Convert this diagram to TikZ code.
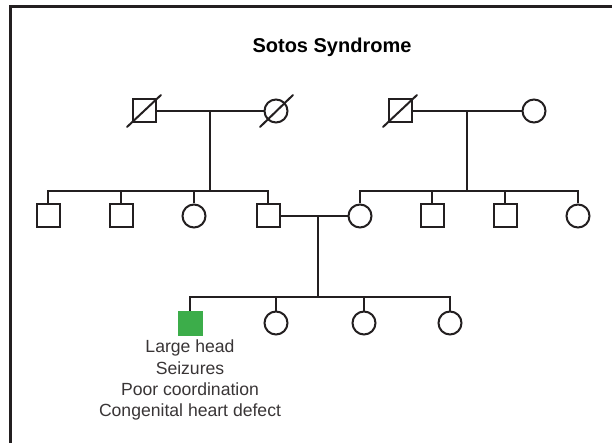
\documentclass[tikz,border=0pt]{standalone}
\usepackage{fontspec}
\setmainfont{Liberation Sans}
\usetikzlibrary{calc}
\definecolor{ink}{HTML}{231F20}
\definecolor{affgreen}{HTML}{3CAD4A}

\begin{document}
\begin{tikzpicture}[x=1pt, y=-1pt, line width=2pt,
  male/.style={draw=ink, rectangle, minimum size=23pt, inner sep=0pt},
  female/.style={draw=ink, circle, minimum size=23pt, inner sep=0pt},
  affected/.style={fill=affgreen, draw=affgreen},
  line/.style={draw=ink, line width=2pt},
  deadmark/.style={draw=ink, line width=2pt, line cap=round},
  traits/.style={align=center, text=ink!90, inner sep=0pt,
    font=\fontsize{17.6}{21.3}\selectfont}]
  \useasboundingbox (0,0) rectangle (612,443);
  % frame
  \draw[ink, line width=3pt] (10.5,443) -- (10.5,6.5) -- (612,6.5);
  \node[font=\fontsize{20}{24}\selectfont\bfseries, anchor=base] (title) at (332,53) {Sotos Syndrome};

  % generation I
  \node[male] (gf1) at (144,111) {};
  \node[female] (gm1) at (276,111) {};
  \node[male] (gf2) at (400,111) {};
  \node[female] (gm2) at (534,111) {};
  \draw[deadmark] ($(gf1)+(-17,16)$) -- ($(gf1)+(17,-16)$);
  \draw[deadmark] ($(gm1)+(-16,16)$) -- ($(gm1)+(17,-16)$);
  \draw[deadmark] ($(gf2)+(-17,16)$) -- ($(gf2)+(17,-16)$);

  % generation II
  \node[male] (u1) at (48,216) {};
  \node[male] (u2) at (121,216) {};
  \node[female] (u3) at (194,216) {};
  \node[male] (dad) at (268,216) {};
  \node[female] (mom) at (360,216) {};
  \node[male] (v2) at (432,216) {};
  \node[male] (v3) at (505,216) {};
  \node[female] (v4) at (578,216) {};

  % generation III
  \node[male, affected] (kid) at (190,323) {};
  \node[female] (k2) at (276,323) {};
  \node[female] (k3) at (364,323) {};
  \node[female] (k4) at (450,323) {};
  \node[traits, anchor=north] (txt) at (190,339) {Large head\\Seizures\\Poor coordination\\Congenital heart defect};

  % couples and descent
  \coordinate (m1) at ($(gf1)!0.5!(gm1)$);
  \coordinate (m2) at ($(gf2)!0.5!(gm2)$);
  \coordinate (m3) at (318,216);
  \coordinate (sib1) at (m1 |- 0,191);
  \coordinate (sib2) at (m2 |- 0,191);
  \coordinate (sib3) at (318,297);
  \draw[line] (gf1) -- (gm1);
  \draw[line] (gf2) -- (gm2);
  \draw[line] (dad) -- (mom);
  \draw[line] (m1) -- (sib1);
  \draw[line] (m2) -- (sib2);
  \draw[line] (m3) -- (sib3);

  \draw[line] (u1.north) |- (sib1) -| (dad.north);
  \draw[line] (u2.north) -- (u2.north |- sib1);
  \draw[line] (u3.north) -- (u3.north |- sib1);
  \draw[line] (mom.north) |- (sib2) -| (v4.north);
  \draw[line] (v2.north) -- (v2.north |- sib2);
  \draw[line] (v3.north) -- (v3.north |- sib2);
  \draw[line] (kid.north) |- (sib3) -| (k4.north);
  \draw[line] (k2.north) -- (k2.north |- sib3);
  \draw[line] (k3.north) -- (k3.north |- sib3);
\end{tikzpicture}
\end{document}
